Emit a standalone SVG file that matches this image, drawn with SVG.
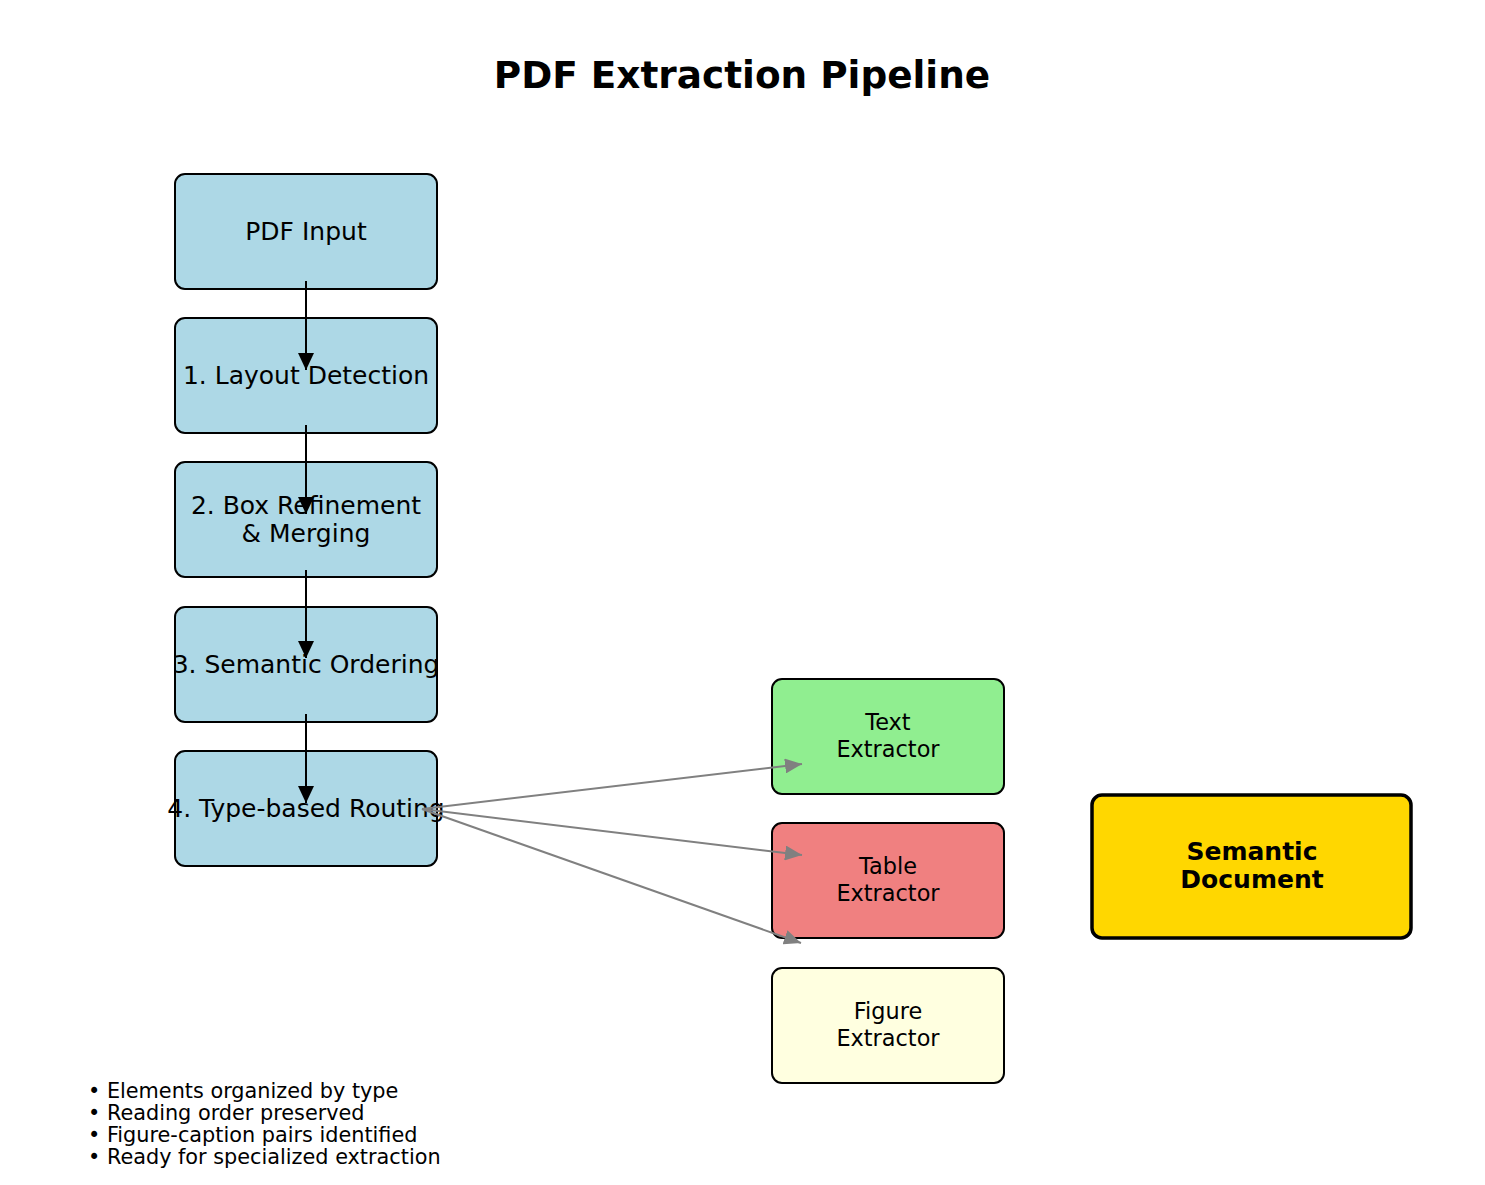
<svg xmlns="http://www.w3.org/2000/svg" width="1485" height="1185" viewBox="0 0 1485 1185">
<defs>
<style>
text{font-family:"DejaVu Sans","Liberation Sans",sans-serif;fill:#000}
.n{stroke:#000;stroke-width:2}
.t{font-size:25px;text-anchor:middle}
.s{font-size:22.4px;text-anchor:middle}
.k{stroke:#000;stroke-width:2;fill:none}
.g{stroke:#808080;stroke-width:2;fill:none}
</style>
<marker id="ab" viewBox="0 0 10 10" refX="10" refY="5" markerWidth="17" markerHeight="16" markerUnits="userSpaceOnUse" orient="auto" preserveAspectRatio="none">
<path d="M0,0 L10,5 L0,10 z" fill="#000"/>
</marker>
<marker id="ag" viewBox="0 0 10 10" refX="10" refY="5" markerWidth="17" markerHeight="15" markerUnits="userSpaceOnUse" orient="auto" preserveAspectRatio="none">
<path d="M0,0 L10,5 L0,10 z" fill="#808080"/>
</marker>
</defs>
<rect width="1485" height="1185" fill="#fff"/>
<text x="742" y="88" font-size="37.4" font-weight="bold" text-anchor="middle">PDF Extraction Pipeline</text>
<g id="pdf-input"><rect class="n" x="175" y="174" width="262" height="115" rx="10" fill="#ADD8E6"/><text class="t" x="306" y="240">PDF Input</text></g>
<g id="layout-detection"><rect class="n" x="175" y="318" width="262" height="115" rx="10" fill="#ADD8E6"/><text class="t" x="306" y="384">1. Layout Detection</text></g>
<g id="box-refinement"><rect class="n" x="175" y="462" width="262" height="115" rx="10" fill="#ADD8E6"/><text class="t" x="306" y="514">2. Box Refinement</text><text class="t" x="306" y="542">&amp; Merging</text></g>
<g id="semantic-ordering"><rect class="n" x="175" y="607" width="262" height="115" rx="10" fill="#ADD8E6"/><text class="t" x="306" y="673">3. Semantic Ordering</text></g>
<g id="type-routing"><rect class="n" x="175" y="751" width="262" height="115" rx="10" fill="#ADD8E6"/><text class="t" x="306" y="817">4. Type-based Routing</text></g>
<g id="text-extractor"><rect class="n" x="772" y="679" width="232" height="115" rx="10" fill="#90EE90"/><text class="s" x="888" y="730">Text</text><text class="s" x="888" y="757">Extractor</text></g>
<g id="table-extractor"><rect class="n" x="772" y="823" width="232" height="115" rx="10" fill="#F08080"/><text class="s" x="888" y="874">Table</text><text class="s" x="888" y="901">Extractor</text></g>
<g id="figure-extractor"><rect class="n" x="772" y="968" width="232" height="115" rx="10" fill="#FFFFE0"/><text class="s" x="888" y="1019">Figure</text><text class="s" x="888" y="1046">Extractor</text></g>
<g id="semantic-document"><rect x="1092" y="795" width="319" height="143" rx="10" fill="#FFD700" stroke="#000" stroke-width="3.5"/><text x="1252" y="860" font-size="25" font-weight="bold" text-anchor="middle">Semantic</text><text x="1252" y="888" font-size="25" font-weight="bold" text-anchor="middle">Document</text></g>
<g id="connectors">
<path class="k" d="M306,281 L306,370" marker-end="url(#ab)"/>
<path class="k" d="M306,425 L306,514" marker-end="url(#ab)"/>
<path class="k" d="M306,570 L306,658" marker-end="url(#ab)"/>
<path class="k" d="M306,714 L306,803" marker-end="url(#ab)"/>
<path class="g" d="M422,809 L802,764" marker-end="url(#ag)"/>
<path class="g" d="M422,809 L802,855" marker-end="url(#ag)"/>
<path class="g" d="M422,809 L801,943" marker-end="url(#ag)"/>
</g>
<g id="notes">
<text x="88" y="1098" font-size="20.8">• Elements organized by type</text>
<text x="88" y="1120" font-size="20.8">• Reading order preserved</text>
<text x="88" y="1142" font-size="20.8">• Figure-caption pairs identified</text>
<text x="88" y="1164" font-size="20.8">• Ready for specialized extraction</text>
</g>
</svg>
